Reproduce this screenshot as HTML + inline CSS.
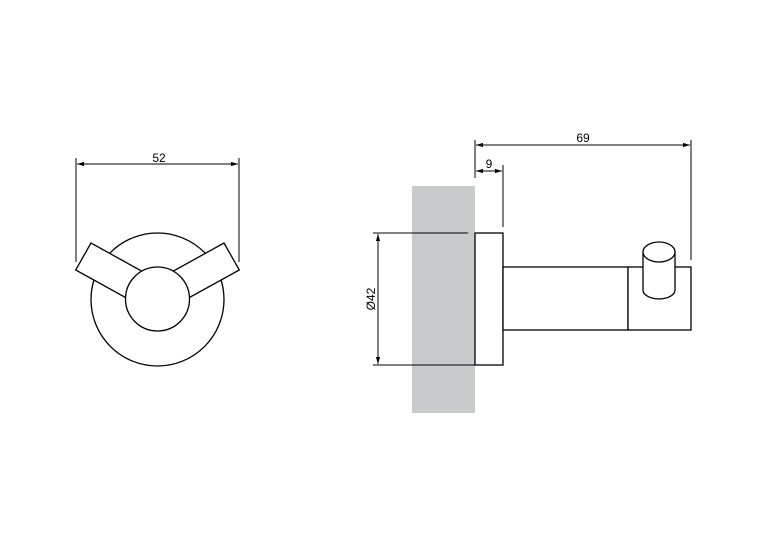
<!DOCTYPE html>
<html><head><style>body{margin:0;background:#fff}svg{display:block}</style></head><body>
<svg width="768" height="533" viewBox="0 0 768 533" xmlns="http://www.w3.org/2000/svg" font-family="Liberation Sans, sans-serif">
<defs><marker id="a" viewBox="0 0 10 10" refX="10" refY="5" markerWidth="7" markerHeight="7" orient="auto-start-reverse"><path d="M0,2 L10,5 L0,8z" fill="#000"/></marker></defs>
<g stroke="#000" stroke-width="1.3" fill="#fff">
<circle cx="157.5" cy="299.5" r="66.5"/>
<polygon points="91,243 75.7,270 150,311 165,284"/>
<polygon points="224,243 239.3,270 165,311 150,284"/>
<circle cx="157.5" cy="299" r="32"/>
</g>
<g stroke="#000" stroke-width="1" fill="none">
<line x1="76" y1="158" x2="76" y2="262"/><line x1="239" y1="158" x2="239" y2="262"/>
<line x1="77" y1="164" x2="238" y2="164" marker-start="url(#a)" marker-end="url(#a)"/>
</g>
<text x="159" y="162" font-size="12" text-anchor="middle">52</text>
<rect x="412" y="186" width="63" height="227" fill="#c8cacb"/>
<g stroke="#000" stroke-width="1.3" fill="#fff">
<rect x="475" y="233" width="28" height="132"/>
<rect x="503" y="267" width="125" height="63"/>
<rect x="628" y="267" width="63" height="63"/>
<path d="M643,252 V290 A16,9 0 0 0 675,290 V252"/>
<ellipse cx="659" cy="252" rx="16" ry="10"/>
</g>
<g stroke="#000" stroke-width="1" fill="none">
<line x1="373" y1="233" x2="468" y2="233"/><line x1="373" y1="365" x2="475" y2="365"/>
<line x1="378" y1="234" x2="378" y2="364" marker-start="url(#a)" marker-end="url(#a)"/>
<line x1="475" y1="140" x2="475" y2="178"/><line x1="691" y1="140" x2="691" y2="260"/>
<line x1="503" y1="165" x2="503" y2="227"/>
<line x1="476" y1="145" x2="690" y2="145" marker-start="url(#a)" marker-end="url(#a)"/>
<line x1="476" y1="171" x2="502" y2="171" marker-start="url(#a)" marker-end="url(#a)"/>
</g>
<text x="583" y="142" font-size="12" text-anchor="middle">69</text>
<text x="489" y="168" font-size="12" text-anchor="middle">9</text>
<text x="0" y="0" font-size="12" text-anchor="middle" transform="translate(375,299) rotate(-90)">Ø42</text>
</svg>
</body></html>
